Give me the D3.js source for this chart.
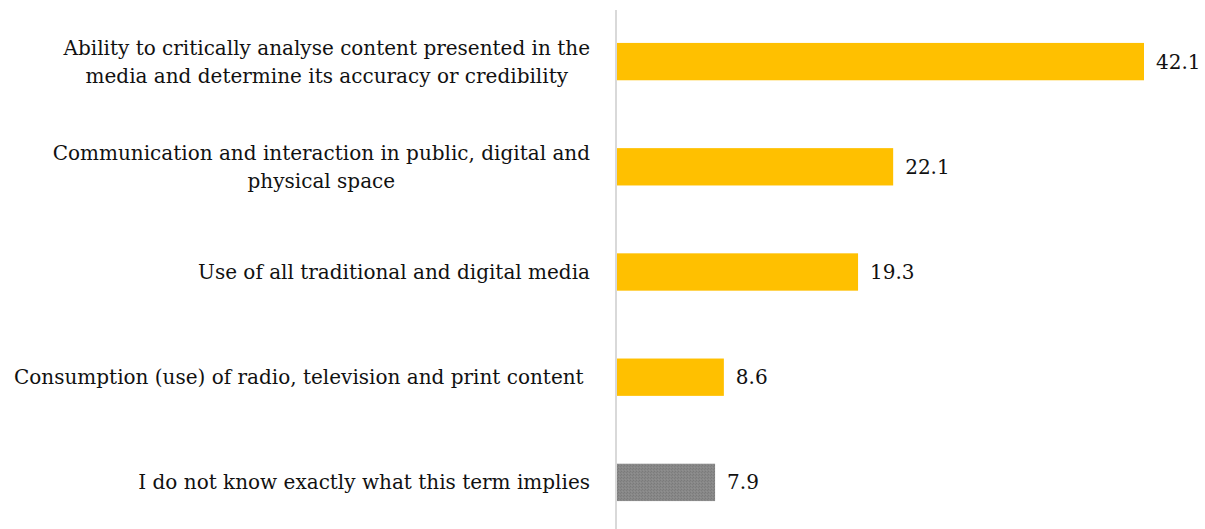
<!DOCTYPE html>
<html>
<head>
<meta charset="utf-8">
<script src="https://cdn.jsdelivr.net/npm/d3@7"></script>
<style>
  html, body { margin: 0; padding: 0; background: #fff; }
  svg { display: block; }
  text { font-family: "DejaVu Serif", "Liberation Serif", serif; fill: #111; white-space: pre; }
</style>
</head>
<body>
<svg id="chart" width="1205" height="529"></svg>
<script>
// Survey responses: understanding of the term "media literacy" (%)
const categories = [
  ["Ability to critically analyse content presented in the", "media and determine its accuracy or credibility"],
  ["Communication and interaction in public, digital and", "physical space"],
  ["Use of all traditional and digital media"],
  ["Consumption (use) of radio, television and print content "],
  ["I do not know exactly what this term implies"]
];
const values = [42.1, 22.1, 19.3, 8.6, 7.9];
const highlight = [false, false, false, false, true];

const W = 1205, H = 529;
const axisX = 616;
const fontSize = 20;
const svg = d3.select("#chart");

// Fine stipple texture for the "don't know" bar
const defs = svg.append("defs");
const pat = defs.append("pattern")
  .attr("id", "stipple").attr("patternUnits", "userSpaceOnUse")
  .attr("width", 3).attr("height", 3);
pat.append("rect").attr("width", 3).attr("height", 3).attr("fill", "#888888");
pat.append("rect").attr("x", 0).attr("y", 0).attr("width", 1).attr("height", 1).attr("fill", "#7a7a7a");
pat.append("rect").attr("x", 2).attr("y", 1).attr("width", 1).attr("height", 1).attr("fill", "#7d7d7d");
pat.append("rect").attr("x", 1).attr("y", 2).attr("width", 1).attr("height", 1).attr("fill", "#909090");

const x = d3.scaleLinear().domain([0, 42.1]).range([axisX, 1144]);
const y = d3.scaleBand()
  .domain(d3.range(values.length))
  .range([9, 535])
  .paddingInner(0.645)
  .paddingOuter(0.3225);

// Bars
svg.selectAll("rect.bar")
  .data(values)
  .join("rect")
  .attr("class", "bar")
  .attr("x", x(0))
  .attr("y", (d, i) => y(i))
  .attr("width", d => x(d) - x(0))
  .attr("height", y.bandwidth())
  .attr("fill", (d, i) => highlight[i] ? "url(#stipple)" : "#ffc000");

// Vertical category axis line
svg.append("line")
  .attr("x1", axisX).attr("x2", axisX)
  .attr("y1", 10).attr("y2", H)
  .attr("stroke", "#d9d9d9").attr("stroke-width", 2);

// Value labels
svg.selectAll("text.val")
  .data(values)
  .join("text")
  .attr("class", "val")
  .attr("x", d => x(d) + 12)
  .attr("y", (d, i) => y(i) + y.bandwidth() / 2)
  .attr("dy", "0.35em")
  .attr("font-size", fontSize)
  .text(d => d.toFixed(1));

// Category labels: lines centred within a block right-aligned to the axis
const labelRight = 590;
const lineH = 28;
categories.forEach((lines, i) => {
  const g = svg.append("g");
  const texts = lines.map(l => g.append("text")
    .attr("font-size", fontSize)
    .attr("text-anchor", "middle")
    .text(l));
  const maxW = d3.max(texts, t => t.node().getComputedTextLength());
  const cx = labelRight - maxW / 2;
  const cy = y(i) + y.bandwidth() / 2;
  const y0 = cy - (lines.length - 1) * lineH / 2;
  texts.forEach((t, k) => t.attr("x", cx).attr("y", y0 + k * lineH).attr("dy", "0.35em"));
});
</script>
</body>
</html>
